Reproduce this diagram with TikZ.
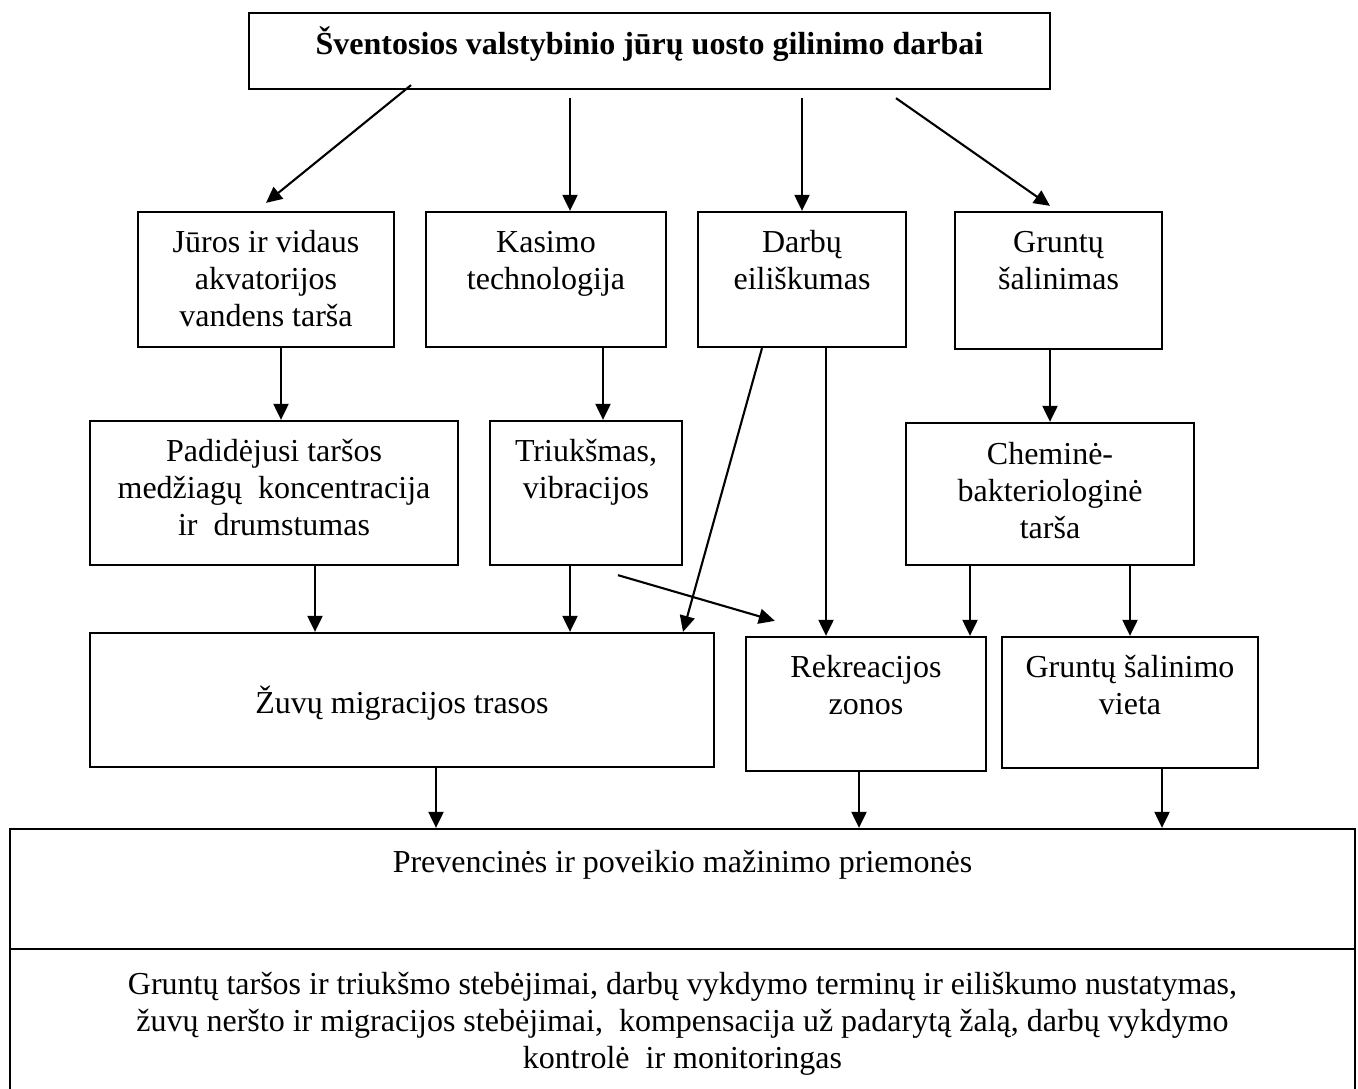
\documentclass[tikz,border=0pt]{standalone}
\usepackage{fontspec}
\setmainfont{Liberation Serif}
\usetikzlibrary{arrows.meta,calc}
\newcommand\bx[4]{\parbox[c][#2pt][t]{#1pt}{\centering\vspace*{#3pt}\strut #4\par}}
\begin{document}
\begin{tikzpicture}[x=1pt,y=-1pt,
  box/.style={draw, line width=2.3pt, inner sep=0pt, font=\fontsize{32}{37}\selectfont},
  arr/.style={line width=2.1pt, -{Triangle[length=16pt,width=15pt]}}]
\clip (0,0) rectangle (1358,1088);
\fill[white] (0,0) rectangle (1358,1088);
% boxes
\node[box] (top) at (649.5,51) {\bx{801}{76}{14}{\textbf{Šventosios valstybinio jūrų uosto gilinimo darbai}}};
\node[box] (A) at (266,279.5) {\bx{256}{135}{15}{Jūros ir vidaus\\akvatorijos\\vandens tarša}};
\node[box] (B) at (546,279.5) {\bx{240}{135}{15}{Kasimo\\technologija}};
\node[box] (C) at (802,279.5) {\bx{208}{135}{15}{Darbų\\eiliškumas}};
\node[box] (D) at (1058.5,280.5) {\bx{207}{137}{15}{Gruntų\\šalinimas}};
\node[box] (P) at (274,493) {\bx{368}{144}{15}{Padidėjusi taršos\\medžiagų\ \ koncentracija\\ir\ \ drumstumas}};
\node[box] (T) at (586,493) {\bx{192}{144}{15}{Triukšmas,\\vibracijos}};
\node[box] (K) at (1050,494) {\bx{288}{142}{16}{Cheminė-\\bakteriologinė\\tarša}};
\node[box] (Z) at (402,700) {\bx{624}{134}{53}{Žuvų migracijos trasos}};
\node[box] (R) at (866,704) {\bx{240}{134}{15}{Rekreacijos\\zonos}};
\node[box] (G) at (1130,702.5) {\bx{256}{131}{15}{Gruntų šalinimo\\vieta}};
\node[box] (M) at (682.5,889) {\bx{1345}{120}{18}{Prevencinės ir poveikio mažinimo priemonės}};
\node[box] (N) at (682.5,1024.5) {\bx{1345}{151}{20}{Gruntų taršos ir triukšmo stebėjimai, darbų vykdymo terminų ir eiliškumo nustatymas,\\žuvų neršto ir migracijos stebėjimai,\ \ kompensacija už padarytą žalą, darbų vykdymo\\kontrolė\ \ ir monitoringas}};
% connectors
\draw[arr] ($(top.south)+(-238.5,-5)$) -- ($(A.north)+(0,-8)$);
\draw[arr] ($(570,0 |- top.south)+(0,8)$) -- (570,0 |- B.north);
\draw[arr] ($(top.south -| C.north)+(0,8)$) -- (C.north);
\draw[arr] ($(896,0 |- top.south)+(0,8)$) -- ($(D.north)+(-8.5,-5)$);
\draw[arr] (281,0 |- A.south) -- (281,0 |- P.north);
\draw[arr] (603,0 |- B.south) -- (603,0 |- T.north);
\draw[arr] (1050,0 |- D.south) -- (K.north);
\draw[arr] (315,0 |- P.south) -- (315,0 |- Z.north);
\draw[arr] (570,0 |- T.south) -- (570,0 |- Z.north);
\draw[arr] (762,0 |- C.south) -- (683,0 |- Z.north);
\coordinate (f) at ($(T.south)+(32,9)$);
\draw[arr] (f) -- ($(R.north west)+(30,-15)$);
\draw[arr] (826,0 |- C.south) -- (826,0 |- R.north);
\draw[arr] (970,0 |- K.south) -- (970,0 |- R.north);
\draw[arr] (1130,0 |- K.south) -- (G.north);
\draw[arr] (436,0 |- Z.south) -- (436,0 |- M.north);
\draw[arr] (859,0 |- R.south) -- (859,0 |- M.north);
\draw[arr] (1162,0 |- G.south) -- (1162,0 |- M.north);
\end{tikzpicture}
\end{document}
